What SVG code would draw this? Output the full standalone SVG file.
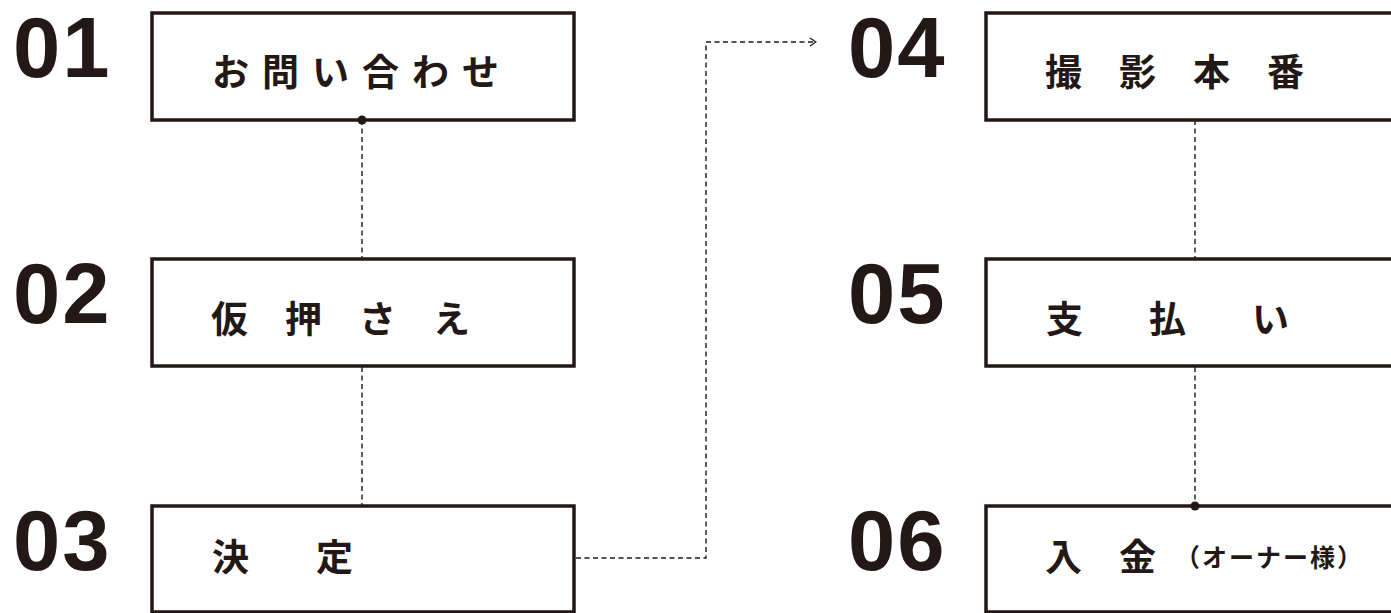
<svg xmlns="http://www.w3.org/2000/svg" width="1391" height="613" viewBox="0 0 1391 613">
<defs>
<style>
.box{fill:#fff;stroke:#231815;stroke-width:3.5}
.num{font-family:"Liberation Sans",Arial,sans-serif;font-weight:700;font-size:85px;letter-spacing:2px;fill:#231815}
.lbl{font-family:"Noto Sans CJK JP","Noto Sans",sans-serif;font-weight:700;font-size:37px;fill:#231815}
.sm{font-family:"Noto Sans CJK JP","Noto Sans",sans-serif;font-weight:700;font-size:25px;fill:#231815}
.con{fill:none;stroke:#231815;stroke-width:1.4;stroke-dasharray:5 3.5}
</style>
<marker id="arr" viewBox="0 0 10 10" refX="9" refY="5" markerWidth="10" markerHeight="10" markerUnits="userSpaceOnUse" orient="auto">
<path d="M3,1 L9,5 L3,9" fill="none" stroke="#231815" stroke-width="1.3"/>
</marker>
</defs>
<rect width="1391" height="613" fill="#fff"/>
<g id="connectors">
<line class="con" x1="362" y1="120" x2="362" y2="258"/>
<line class="con" x1="362" y1="367" x2="362" y2="505"/>
<polyline class="con" points="576,558 706,558 706,42 816,42" marker-end="url(#arr)"/>
<line class="con" x1="1195" y1="120" x2="1195" y2="258"/>
<line class="con" x1="1195" y1="367" x2="1195" y2="505"/>
</g>
<g id="node01">
<text class="num" x="13" y="77">01</text>
<rect class="box" x="152" y="13" width="422" height="107"/>
<text class="lbl" x="212" y="86" letter-spacing="13">お問い合わせ</text>
<circle cx="362" cy="120" r="4.5" fill="#231815"/>
</g>
<g id="node02">
<text class="num" x="13" y="323">02</text>
<rect class="box" x="152" y="259" width="422" height="107"/>
<text class="lbl" x="211" y="333" letter-spacing="37">仮押さえ</text>
</g>
<g id="node03">
<text class="num" x="13" y="570">03</text>
<rect class="box" x="152" y="506" width="422" height="106"/>
<text class="lbl" x="212" y="571" letter-spacing="67">決定</text>
</g>
<g id="node04">
<text class="num" x="848" y="77">04</text>
<rect class="box" x="986" y="13" width="410" height="107"/>
<text class="lbl" x="1045" y="86" letter-spacing="37">撮影本番</text>
</g>
<g id="node05">
<text class="num" x="848" y="323">05</text>
<rect class="box" x="986" y="259" width="410" height="107"/>
<text class="lbl" x="1046" y="333" letter-spacing="66">支払い</text>
</g>
<g id="node06">
<text class="num" x="848" y="570">06</text>
<rect class="box" x="986" y="506" width="410" height="106"/>
<text class="lbl" x="1045" y="571" letter-spacing="37">入金</text>
<text class="sm" x="1175" y="567" letter-spacing="2">（オーナー様）</text>
<circle cx="1195" cy="506" r="4.5" fill="#231815"/>
</g>
</svg>
